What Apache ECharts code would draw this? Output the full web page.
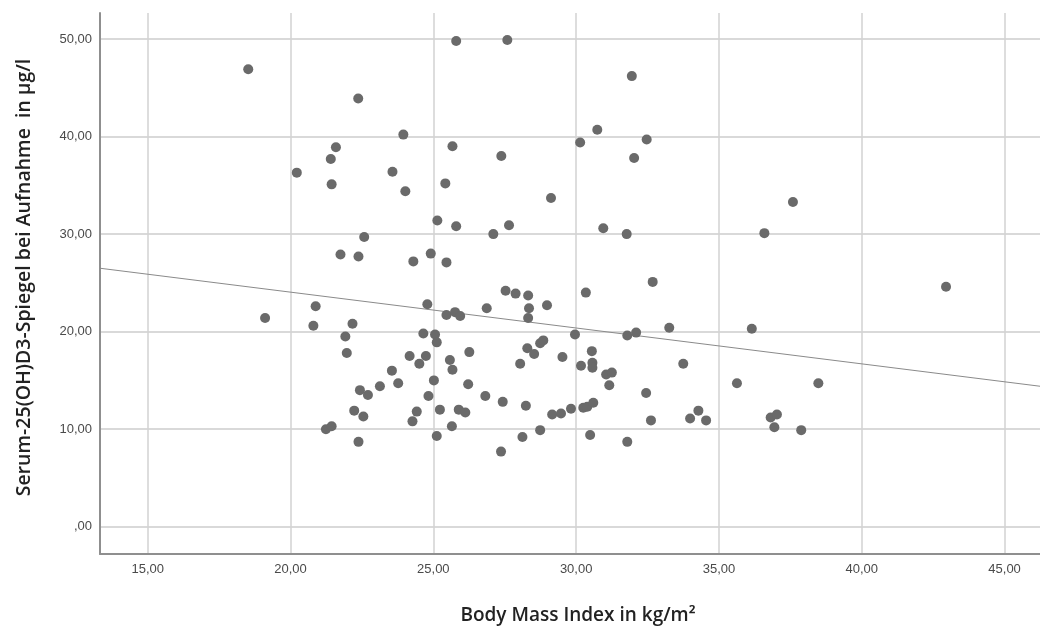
<!DOCTYPE html>
<html>
<head>
<meta charset="utf-8">
<script src="https://cdn.jsdelivr.net/npm/echarts@6/dist/echarts.min.js"></script>
<style>html,body{margin:0;padding:0;background:#fff}#c{width:1040px;height:628px}</style>
</head>
<body>
<div id="c"></div>
<script>
// Body Mass Index (kg/m²)
const bmi = [18.52,22.37,21.59,21.41,20.22,21.44,21.75,22.38,25.80,27.59,31.95,23.95,25.67,27.38,30.74,30.14,32.47,32.03,23.57,24.02,25.42,29.12,25.14,25.80,27.10,27.65,30.95,31.77,22.58,24.30,24.91,25.46,27.53,27.88,28.32,30.34,32.68,37.59,36.59,42.95,19.11,20.88,20.80,22.17,21.92,21.97,22.43,22.23,21.24,21.44,22.38,24.79,25.46,25.76,25.94,26.87,28.35,28.32,28.98,24.65,25.06,25.12,24.17,24.74,24.51,25.58,25.67,26.26,23.55,23.77,23.13,22.71,25.02,24.83,26.22,26.82,27.43,28.24,28.04,28.29,28.53,28.74,28.85,29.52,29.96,30.17,30.55,30.57,30.57,31.05,31.25,31.16,31.79,32.10,33.26,33.75,32.45,32.62,33.99,34.28,30.25,30.39,30.60,29.82,29.16,29.47,28.74,28.12,27.37,30.49,31.79,25.23,25.89,26.12,25.65,25.12,24.42,24.27,22.55,36.15,35.63,38.48,34.55,36.81,37.03,36.94,37.88];
// Serum-25(OH)D3 (µg/l)
const vitD = [46.9,43.9,38.9,37.7,36.3,35.1,27.9,27.7,49.8,49.9,46.2,40.2,39.0,38.0,40.7,39.4,39.7,37.8,36.4,34.4,35.2,33.7,31.4,30.8,30.0,30.9,30.6,30.0,29.7,27.2,28.0,27.1,24.2,23.9,23.7,24.0,25.1,33.3,30.1,24.6,21.4,22.6,20.6,20.8,19.5,17.8,14.0,11.9,10.0,10.3,8.7,22.8,21.7,22.0,21.6,22.4,22.4,21.4,22.7,19.8,19.7,18.9,17.5,17.5,16.7,17.1,16.1,17.9,16.0,14.7,14.4,13.5,15.0,13.4,14.6,13.4,12.8,12.4,16.7,18.3,17.7,18.8,19.1,17.4,19.7,16.5,18.0,16.8,16.3,15.6,15.8,14.5,19.6,19.9,20.4,16.7,13.7,10.9,11.1,11.9,12.2,12.3,12.7,12.1,11.5,11.6,9.9,9.2,7.7,9.4,8.7,12.0,12.0,11.7,10.3,9.3,11.8,10.8,11.3,20.3,14.7,14.7,10.9,11.2,11.5,10.2,9.9];
// Fit line endpoints
const fitX = [13.33, 46.24];
const fitY = [26.5, 14.4];
const xTicks = [15, 20, 25, 30, 35, 40, 45];
const yTicks = [0, 10, 20, 30, 40, 50];
const xRange = [13.33, 46.24];
const yRange = [-2.8, 52.67];

const fmt = v => { const s = Number(v).toFixed(2).replace('.', ','); return s.startsWith('0,') ? s.slice(1) : s; };
const pts = bmi.map((x, i) => [x, vitD[i]]);
const fitPts = fitX.map((x, i) => [x, fitY[i]]);

const chart = echarts.init(document.getElementById('c'), null, {renderer: 'canvas'});
chart.setOption({
  animation: false,
  backgroundColor: '#ffffff',
  grid: {left: 100, right: 0, top: 13, bottom: 74, containLabel: false, outerBoundsMode: 'none'},
  xAxis: {
    type: 'value', min: xRange[0], max: xRange[1],
    name: 'Body Mass Index in kg/m²', nameLocation: 'middle', nameGap: 52,
    nameTextStyle: {fontFamily: 'Open Sans', fontSize: 19, fontWeight: 600, color: '#222', padding: [0, 0, 0, 16]},
    axisLine: {show: true, onZero: false, lineStyle: {color: '#8f8f8f', width: 2}},
    axisTick: {show: false, customValues: xTicks},
    axisLabel: {customValues: xTicks, formatter: fmt, fontFamily: 'Liberation Sans', fontSize: 13, color: '#4a4a4a', margin: 9},
    splitLine: {show: true, lineStyle: {color: '#d2d2d2', width: 1.5}}
  },
  yAxis: {
    type: 'value', min: yRange[0], max: yRange[1],
    name: 'Serum-25(OH)D3-Spiegel bei Aufnahme  in µg/l', nameLocation: 'middle', nameGap: 66, nameRotate: 90,
    nameTextStyle: {fontFamily: 'Open Sans', fontSize: 19.5, fontWeight: 600, color: '#222', padding: [0, 0, 0, 12]},
    axisLine: {show: true, onZero: false, lineStyle: {color: '#8f8f8f', width: 2}},
    axisTick: {show: false, customValues: yTicks},
    axisLabel: {customValues: yTicks, formatter: fmt, fontFamily: 'Liberation Sans', fontSize: 13, color: '#4a4a4a', margin: 8},
    splitLine: {show: true, lineStyle: {color: '#d9d9d9', width: 2}}
  },
  series: [
    {type: 'line', data: fitPts, showSymbol: false, symbol: 'none', lineStyle: {color: '#8a8a8a', width: 1}, z: 3, silent: true},
    {type: 'scatter', data: pts, symbolSize: 10, itemStyle: {color: '#6a6a6a', opacity: 1}, z: 4}
  ]
});
</script>
</body>
</html>
